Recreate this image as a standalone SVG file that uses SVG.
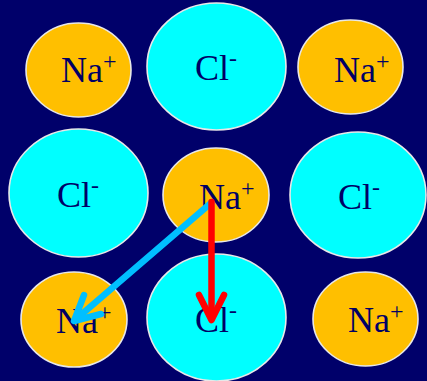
<svg xmlns="http://www.w3.org/2000/svg" width="427" height="381" viewBox="0 0 427 381">
<style>
.na{fill:#FFBF00;stroke:#E8E8E8;stroke-width:1.6}
.cl{fill:#00FFFF;stroke:#E8E8E8;stroke-width:1.6}
.t{font-family:'Liberation Serif',serif;font-size:36px;fill:#000066}
.sup{font-size:24px}
.arr{fill:none;stroke-width:6.5;stroke-linecap:round;stroke-linejoin:round}
</style>
<rect width="427" height="381" fill="#00006A"/>
<g id="na1"><ellipse class="na" cx="78.5" cy="70" rx="52.5" ry="47"/><text class="t" x="61" y="82">Na<tspan class="sup" dy="-13">+</tspan></text></g>
<g id="cl1"><ellipse class="cl" cx="216.5" cy="66.5" rx="69.5" ry="63.5"/><text class="t" x="195" y="80">Cl<tspan class="sup" dy="-14">-</tspan></text></g>
<g id="na2"><ellipse class="na" cx="350.5" cy="67" rx="52.5" ry="47"/><text class="t" x="334" y="82">Na<tspan class="sup" dy="-13">+</tspan></text></g>
<g id="cl2"><ellipse class="cl" cx="78.5" cy="193" rx="69.5" ry="64"/><text class="t" x="57" y="207">Cl<tspan class="sup" dy="-14">-</tspan></text></g>
<g id="na3"><ellipse class="na" cx="216" cy="195" rx="53" ry="47"/><text class="t" x="199" y="209">Na<tspan class="sup" dy="-13">+</tspan></text></g>
<g id="cl3"><ellipse class="cl" cx="358" cy="195" rx="68" ry="63"/><text class="t" x="338" y="209">Cl<tspan class="sup" dy="-14">-</tspan></text></g>
<g id="na4"><ellipse class="na" cx="74" cy="319.5" rx="53" ry="47.5"/><text class="t" x="56" y="333">Na<tspan class="sup" dy="-13">+</tspan></text></g>
<g id="cl4"><ellipse class="cl" cx="216.5" cy="317.5" rx="69.5" ry="63.5"/><text class="t" x="195" y="332">Cl<tspan class="sup" dy="-14">-</tspan></text></g>
<g id="na5"><ellipse class="na" cx="365.5" cy="319" rx="52.5" ry="47"/><text class="t" x="348" y="332">Na<tspan class="sup" dy="-13">+</tspan></text></g>
<g id="connectors">
<line class="arr" stroke="#00BFFF" x1="211" y1="203" x2="75" y2="320"/>
<polyline class="arr" stroke="#00BFFF" points="84,295 74,321 101,314"/>
<line class="arr" stroke="#FF0000" x1="211.5" y1="202" x2="211.5" y2="318"/>
<polyline class="arr" stroke="#FF0000" points="199,295 211.5,320 224,295"/>
</g>
</svg>
